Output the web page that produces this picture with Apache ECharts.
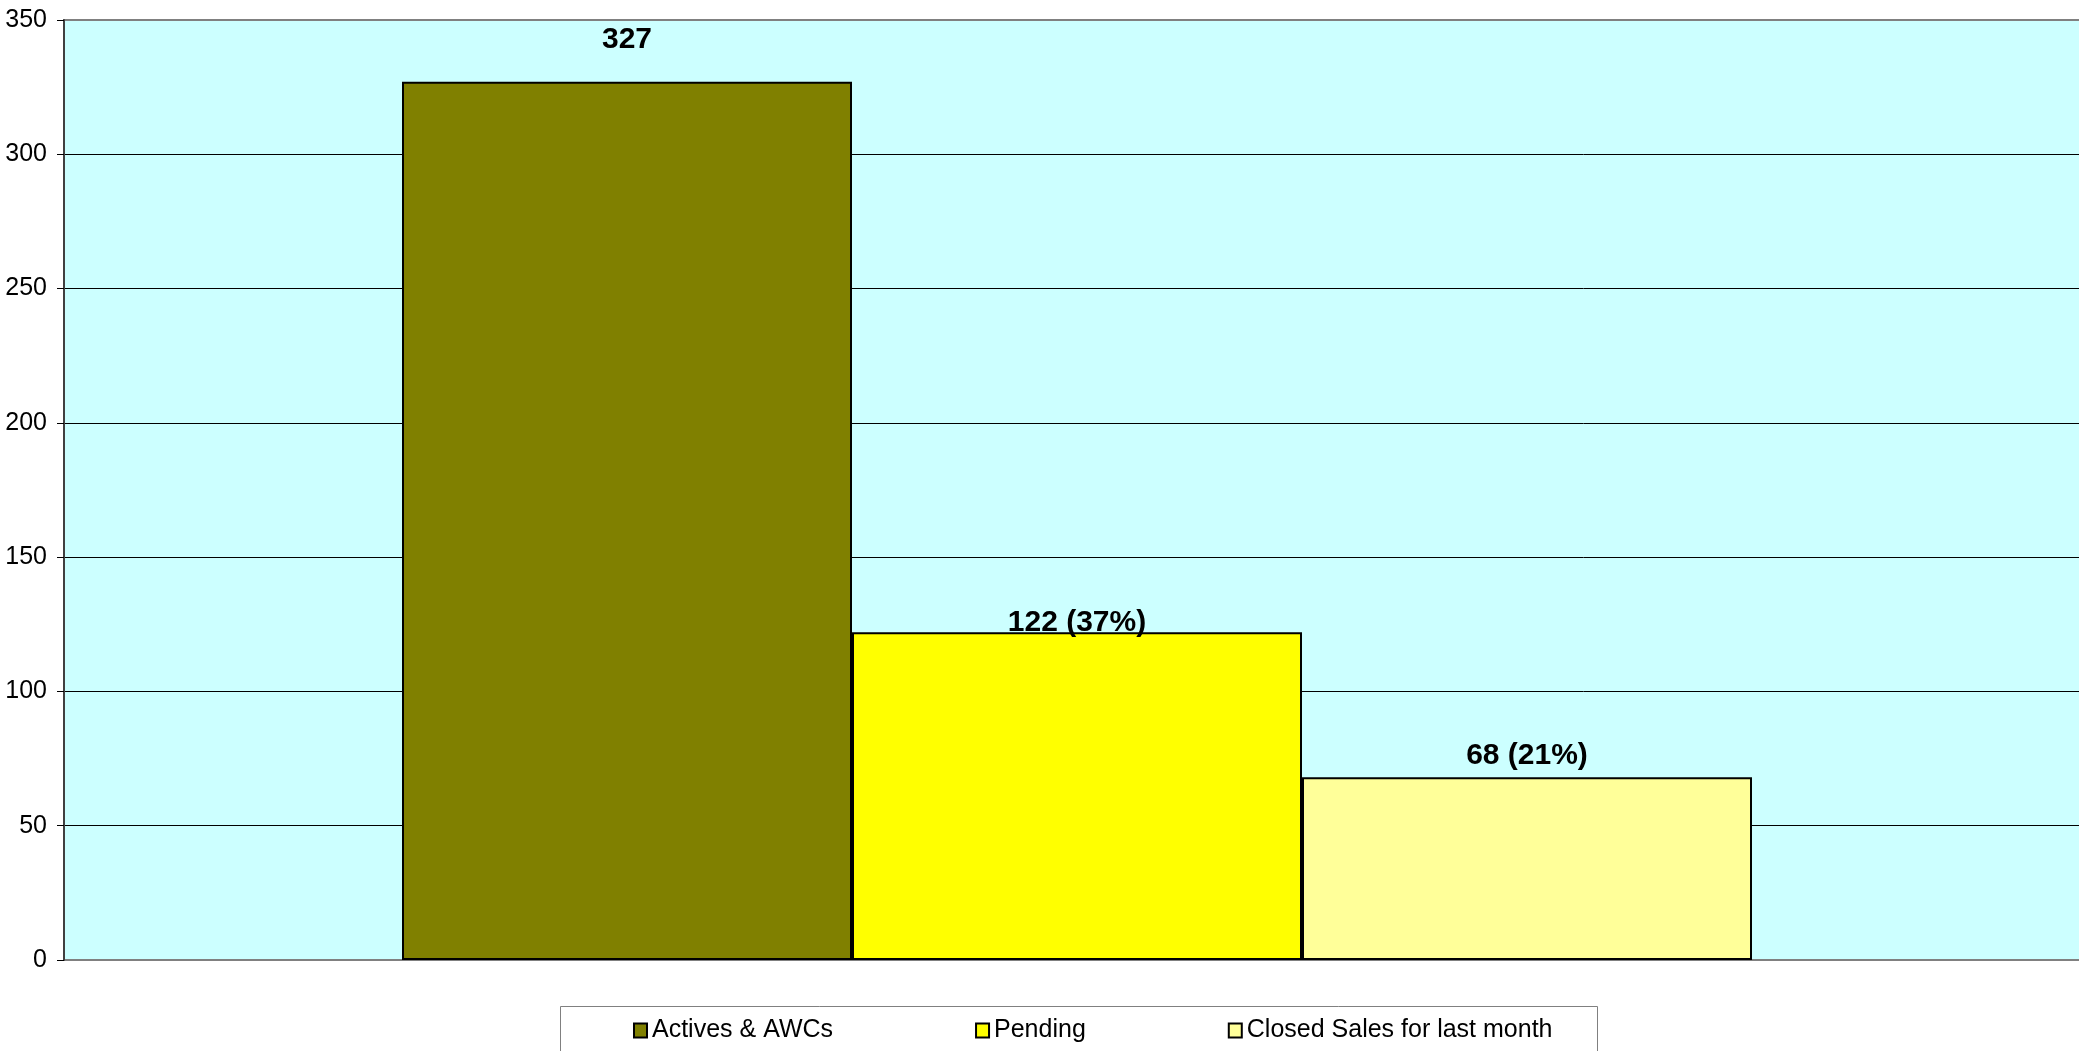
<!DOCTYPE html>
<html>
<head>
<meta charset="utf-8">
<script src="https://cdn.jsdelivr.net/npm/echarts@6/dist/echarts.min.js"></script>
<style>
html,body{margin:0;padding:0;background:#fff;overflow:hidden;}
#chart{width:2090px;height:1051px;}
</style>
</head>
<body>
<div id="chart"></div>
<script>
const seriesNames = ['Actives & AWCs', 'Pending', 'Closed Sales for last month'];
const seriesValues = [327, 122, 68];
const seriesLabels = ['327', '122 (37%)', '68 (21%)'];
const barColors = ['#808000', '#FFFF00', '#FFFF99'];
const yTicks = [0, 50, 100, 150, 200, 250, 300, 350];

const FONT = '"Liberation Sans Narrow", "Arial Narrow", "Liberation Sans", Arial, sans-serif';
const labelDistances = [27, -5, 7];

const splitColors = yTicks.map((t, i) => (i === 0 || i === yTicks.length - 1) ? '#808080' : '#000000');

const chart = echarts.init(document.getElementById('chart'), null, {renderer: 'canvas'});
const option = {
  animation: false,
  backgroundColor: '#ffffff',
  grid: {
    left: 64, right: 0, top: 20, bottom: 91,
    show: true,
    backgroundColor: '#CCFFFF',
    borderColor: '#808080',
    borderWidth: 2
  },
  graphic: [{
    type: 'rect',
    left: 560, top: 1006,
    shape: {width: 1037, height: 80},
    style: {fill: '#ffffff', stroke: '#808080', lineWidth: 1},
    z: 0
  }],
  legend: {
    left: 560, top: 1006,
    data: seriesNames,
    itemWidth: 13, itemHeight: 14,
    itemGap: 142,
    padding: [12, 40, 8, 73],
    textStyle: {fontFamily: FONT, fontSize: 25, color: '#000'},
    icon: 'rect',
    z: 5
  },
  xAxis: {
    type: 'category',
    data: [''],
    axisLine: {show: false},
    axisTick: {show: false},
    axisLabel: {show: false}
  },
  yAxis: {
    type: 'value',
    min: yTicks[0], max: yTicks[yTicks.length - 1], interval: yTicks[1] - yTicks[0],
    axisLine: {show: true, lineStyle: {color: '#404040', width: 2}},
    axisTick: {show: true, length: 7, inside: false, lineStyle: {color: '#000', width: 1}},
    axisLabel: {fontFamily: FONT, fontSize: 25, color: '#000', margin: 17},
    splitLine: {show: true, lineStyle: {color: splitColors, width: 1}}
  },
  series: seriesNames.map((name, i) => ({
    name: name,
    type: 'bar',
    barGap: 0,
    barWidth: 450,
    data: [seriesValues[i]],
    itemStyle: {color: barColors[i], borderColor: '#000', borderWidth: 2},
    label: {
      show: true,
      position: 'top',
      distance: labelDistances[i],
      formatter: () => seriesLabels[i],
      fontFamily: FONT,
      fontSize: 30,
      fontWeight: 'bold',
      color: '#000'
    }
  }))
};
chart.setOption(option);
</script>
</body>
</html>
